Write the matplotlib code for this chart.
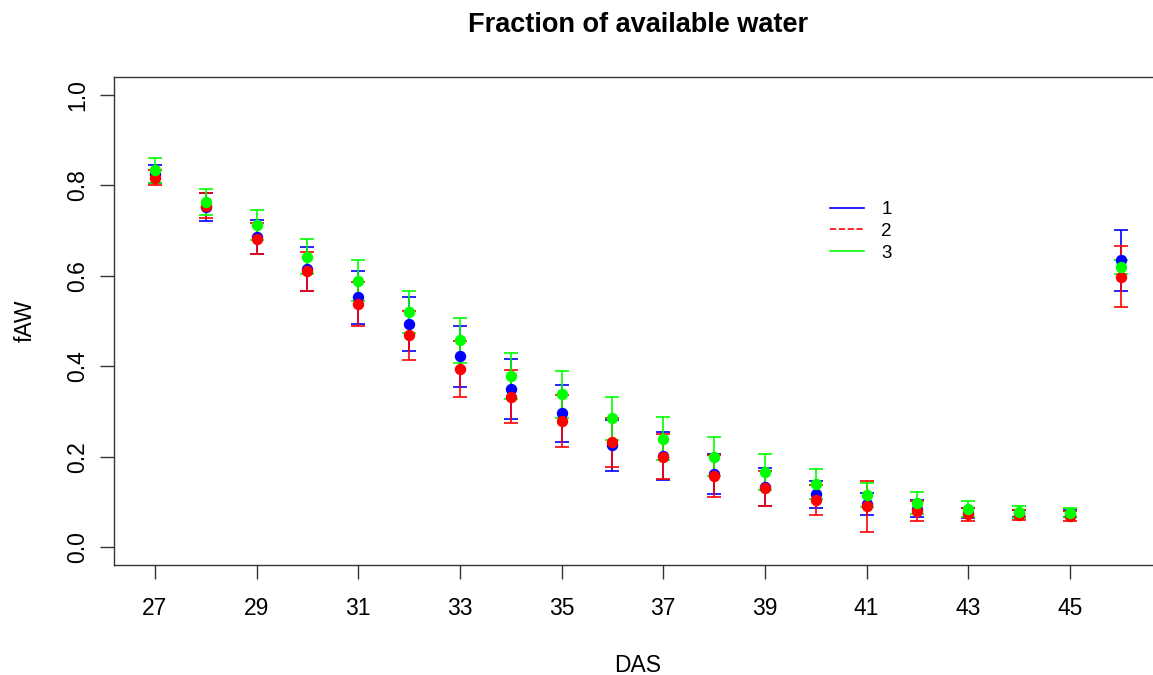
import matplotlib
matplotlib.use('Agg')
import matplotlib.pyplot as plt
from matplotlib.lines import Line2D

plt.rcParams['font.family'] = ['Liberation Sans', 'DejaVu Sans']

# days after sowing
das = list(range(27, 47))

# treatment 1 (blue)
mean1 = [0.825, 0.752, 0.686, 0.615, 0.552, 0.493, 0.422, 0.350, 0.296, 0.225,
         0.202, 0.161, 0.133, 0.117, 0.095, 0.085, 0.076, 0.075, 0.074, 0.634]
err1 = [0.019, 0.031, 0.038, 0.048, 0.058, 0.060, 0.067, 0.067, 0.063, 0.057,
        0.053, 0.044, 0.042, 0.030, 0.024, 0.019, 0.011, 0.008, 0.008, 0.068]

# treatment 2 (red)
mean2 = [0.817, 0.755, 0.682, 0.610, 0.538, 0.468, 0.394, 0.333, 0.279, 0.232,
         0.200, 0.158, 0.130, 0.104, 0.090, 0.080, 0.073, 0.071, 0.069, 0.598]
err2 = [0.017, 0.027, 0.034, 0.043, 0.049, 0.055, 0.061, 0.059, 0.058, 0.054,
        0.050, 0.046, 0.039, 0.033, 0.056, 0.022, 0.014, 0.011, 0.012, 0.067]

# treatment 3 (green)
mean3 = [0.833, 0.763, 0.713, 0.642, 0.589, 0.520, 0.457, 0.378, 0.338, 0.285,
         0.240, 0.200, 0.166, 0.139, 0.115, 0.098, 0.085, 0.077, 0.076, 0.619]
err3 = [0.028, 0.029, 0.033, 0.039, 0.045, 0.047, 0.050, 0.051, 0.052, 0.048,
        0.047, 0.043, 0.040, 0.033, 0.027, 0.024, 0.018, 0.013, 0.010, 0.015]

xticks = [27, 29, 31, 33, 35, 37, 39, 41, 43, 45]
yticks = [0.0, 0.2, 0.4, 0.6, 0.8, 1.0]

fig = plt.figure(figsize=(11.53, 6.75), dpi=100)
ax = fig.add_axes([0.0991, 0.1625, 0.9082, 0.7239])

series = [(mean1, err1, '#0000FF'), (mean2, err2, '#FF0000'), (mean3, err3, '#00FF00')]
for m, e, c in series:
    ax.errorbar(das, m, yerr=e, fmt='o', color=c, ecolor=c, markersize=7.2,
                elinewidth=1.2, capsize=5, capthick=1.2)

ax.set_xlim(26.2, 46.8)
ax.set_ylim(-0.04, 1.04)
ax.set_xticks(xticks)
ax.set_yticks(yticks)
ax.set_yticklabels(['%.1f' % v for v in yticks], rotation=90, va='center')
ax.tick_params(axis='both', length=10, width=1, color='#333333', labelsize=16.5)
ax.tick_params(axis='x', pad=13)
ax.tick_params(axis='y', pad=8)

for s in ax.spines.values():
    s.set_color('#333333')
    s.set_linewidth(1)

ax.set_title('Fraction of available water', fontsize=19.5, fontweight='bold', pad=32)
ax.set_xlabel('DAS', fontsize=16.5, labelpad=24)
ax.set_ylabel('fAW', fontsize=16.5, labelpad=21)

handles = [Line2D([], [], color='#0000FF', lw=1.2),
           Line2D([], [], color='#FF0000', lw=1.2, ls='--'),
           Line2D([], [], color='#00FF00', lw=1.2)]
ax.legend(handles, ['1', '2', '3'], frameon=False, fontsize=13.5,
          loc='upper left', bbox_to_anchor=(0.667, 0.78),
          handlelength=1.85, labelspacing=0.25, handletextpad=0.9)

plt.savefig('out.png', dpi=100)
